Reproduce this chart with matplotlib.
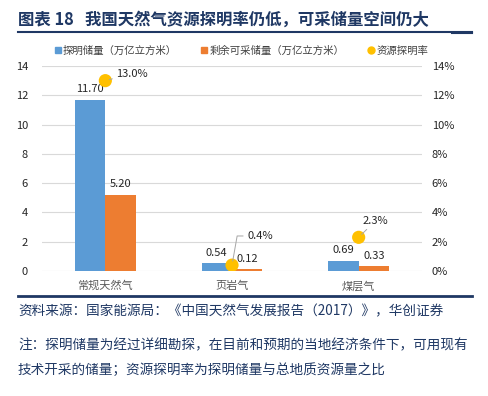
import numpy as np
import matplotlib
matplotlib.use("Agg")
import matplotlib.pyplot as plt
from matplotlib.lines import Line2D
from matplotlib.ticker import FuncFormatter

plt.rcParams['font.family'] = ['Noto Sans CJK SC', 'DejaVu Sans']

categories = ["常规天然气", "页岩气", "煤层气"]
proven = [11.70, 0.54, 0.69]          # 探明储量（万亿立方米）
remaining = [5.20, 0.12, 0.33]        # 剩余可采储量（万亿立方米）
rate = [13.0, 0.4, 2.3]               # 资源探明率 (%)

title = "图表 18   我国天然气资源探明率仍低，可采储量空间仍大"
source = "资料来源：国家能源局：《中国天然气发展报告（2017）》，华创证券"
note1 = "注：探明储量为经过详细勘探，在目前和预期的当地经济条件下，可用现有"
note2 = "技术开采的储量；资源探明率为探明储量与总地质资源量之比"

BLUE = "#5B9BD5"
ORANGE = "#ED7D31"
YELLOW = "#FFC000"
NAVY = "#1F3864"
W, H = 489, 396

fig = plt.figure(figsize=(W / 100, H / 100), dpi=100)
ax = fig.add_axes([42 / W, 1 - 271 / H, 380 / W, 205 / H])
ax2 = ax.twinx()

x = np.arange(len(categories))
bw = 0.24
b1 = ax.bar(x - bw / 2, proven, bw, color=BLUE, zorder=3)
b2 = ax.bar(x + bw / 2, remaining, bw, color=ORANGE, zorder=3)
for bars, vals in ((b1, proven), (b2, remaining)):
    for r, v in zip(bars, vals):
        ax.annotate(f"{v:.2f}", (r.get_x() + r.get_width() / 2, v),
                    xytext=(0, 4), textcoords="offset points",
                    ha="center", va="bottom", fontsize=8, color="#262626")

ax.set_xlim(-0.5, 2.5)
ax.set_ylim(0, 14)
ax.set_yticks(range(0, 15, 2))
ax.set_xticks(x)
ax.set_xticklabels(categories, color="#595959", fontsize=8)
ax.grid(axis="y", color="#D9D9D9", lw=0.8, zorder=0)
ax.tick_params(axis="y", length=0, pad=10, labelsize=8, colors="#262626")
ax.tick_params(axis="x", length=0, pad=7)
for s in ax.spines.values():
    s.set_visible(False)

ax2.set_ylim(0, 14)
ax2.set_yticks(range(0, 15, 2))
ax2.yaxis.set_major_formatter(FuncFormatter(lambda v, p: f"{v:.0f}%"))
ax2.tick_params(axis="y", length=0, pad=7, labelsize=8, colors="#262626")
for s in ax2.spines.values():
    s.set_visible(False)

ax2.scatter(x, rate, s=90, color=YELLOW, zorder=5, edgecolors="none")
offsets = [(8, 5), (11, 21), (3, 12)]
for xi, r, off in zip(x, rate, offsets):
    ax2.annotate(f"{r:.1f}%", (xi, r), xytext=off, textcoords="offset points",
                 ha="left", va="center", fontsize=8, color="#262626",
                 arrowprops=dict(arrowstyle="-", color="#A6A6A6", lw=0.7,
                                 shrinkA=1, shrinkB=3,
                                 connectionstyle="angle,angleA=0,angleB=80" if xi == 1 else "arc3"),
                 zorder=6)

handles = [
    Line2D([], [], marker="s", ls="", color=BLUE, markersize=5),
    Line2D([], [], marker="s", ls="", color=ORANGE, markersize=5),
    Line2D([], [], marker="o", ls="", color=YELLOW, markersize=5),
]
labels = ["探明储量（万亿立方米）", "剩余可采储量（万亿立方米）", "资源探明率"]
fig.legend(handles, labels, loc="center", bbox_to_anchor=(241 / W, 1 - 51 / H),
           ncol=3, frameon=False, fontsize=7.5, handletextpad=0.1,
           columnspacing=2.2, handlelength=0.8, labelcolor="#404040")

fig.text(18 / W, 1 - 20 / H, title, fontsize=11.8, fontweight="bold",
         color=NAVY, ha="left", va="center")
fig.add_artist(Line2D([18 / W, 472 / W], [1 - 32 / H] * 2, color=NAVY, lw=1.5))
fig.add_artist(Line2D([452 / W, 472 / W], [1 - 33.2 / H] * 2, color=NAVY, lw=1.5))
fig.add_artist(Line2D([18 / W, 472 / W], [1 - 296 / H] * 2, color=NAVY, lw=2))

fig.text(18 / W, 1 - 311 / H, source, fontsize=9.8, color=NAVY, ha="left", va="center")
fig.text(18 / W, 1 - 345 / H, note1, fontsize=9.8, color=NAVY, ha="left", va="center")
fig.text(18 / W, 1 - 370 / H, note2, fontsize=9.8, color=NAVY, ha="left", va="center")

fig.savefig("out.png", dpi=100)
